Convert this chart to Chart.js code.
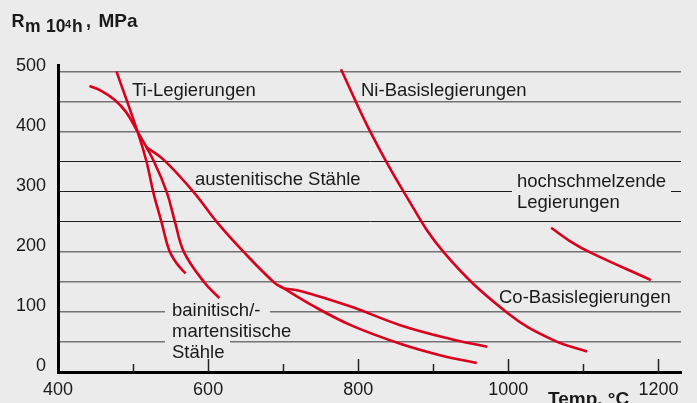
<!DOCTYPE html>
<html>
<head>
<meta charset="utf-8">
<script src="https://cdn.jsdelivr.net/npm/chart.js@4/dist/chart.umd.min.js"></script>
<style>
  html, body { margin: 0; padding: 0; background: #ebebeb; }
  #wrap { width: 697px; height: 403px; position: relative; }
</style>
</head>
<body>
<div id="wrap"><canvas id="c" width="697" height="403"></canvas></div>
<script>
// ---- data (temperature in °C, creep strength Rm 10^4 h in MPa) ----
const tempTi   = [478, 506, 518, 527, 538, 548, 558, 570];
const rmTi     = [500, 400, 350, 299, 249, 203, 181, 164];

const tempBain = [442, 457, 474.5, 490.5, 506, 528, 545, 556, 568, 595, 615];
const rmBain   = [476, 468.5, 454, 433, 400, 350, 299, 249, 199, 149, 123];

const tempAust = [517, 541, 581, 612, 648, 688, 701, 737, 790, 856, 909, 958];
const rmAust   = [375, 353, 299, 249, 199, 149, 139, 112, 78, 47, 28, 15];

const tempCo   = [701, 723, 790, 856, 923, 972];
const rmCo     = [139, 135, 109, 78, 55, 42];

const tempNi   = [777, 816, 861, 914, 998, 1060, 1105];
const rmNi     = [504, 400, 299, 199, 99, 53, 34];

const tempHoch = [1057, 1082, 1109, 1190];
const rmHoch   = [240, 218, 199, 153];

const xTickLabels = ['400', '600', '800', '1000', '1200'];
const yTickLabels = ['0', '100', '200', '300', '400', '500'];

const annotationTexts = ['Ti-Legierungen', 'Ni-Basislegierungen', 'austenitische Stähle',
  'hochschmelzende', 'Legierungen', 'Co-Basislegierungen', 'bainitisch/-', 'martensitische', 'Stähle'];

// ---- layout / style ----
const RED = '#d8001c';
const TEXT = '#1a1a1a';
const BG = '#ebebeb';
const FONT = '"Liberation Sans", Arial, Helvetica, sans-serif';

const annotationPos = [
  {x: 132, y: 96}, {x: 361, y: 96}, {x: 195, y: 185},
  {x: 517, y: 187}, {x: 517, y: 208}, {x: 499, y: 303},
  {x: 172, y: 316}, {x: 172, y: 337}, {x: 172, y: 358}
];
const masks = [
  {x0: 165, x1: 270, y0: 304, y1: 319},
  {x0: 165, x1: 230, y0: 338, y1: 347},
  {x0: 512, x1: 671, y0: 188, y1: 196}
];

function pts(xs, ys) { return xs.map((x, i) => ({x: x, y: ys[i]})); }
function ds(label, xs, ys) {
  return { label: label, data: pts(xs, ys), borderColor: RED, borderWidth: 2.6,
           pointRadius: 0, fill: false, tension: 0.4, borderCapStyle: 'butt' };
}

const annotationPlugin = {
  id: 'annot',
  beforeDatasetsDraw(chart) {
    const ctx = chart.ctx;
    ctx.save();
    ctx.fillStyle = BG;
    masks.forEach(m => ctx.fillRect(m.x0, m.y0, m.x1 - m.x0, m.y1 - m.y0));
    // inner tick marks on x axis
    const xs = chart.scales.x;
    const bottom = chart.chartArea.bottom;
    ctx.strokeStyle = '#222';
    ctx.lineWidth = 1.5;
    for (let v = 500; v <= 1200; v += 100) {
      const px = Math.round(xs.getPixelForValue(v)) + 0.5;
      const len = (v % 200 === 0) ? 13 : 8;
      ctx.beginPath();
      ctx.moveTo(px, bottom);
      ctx.lineTo(px, bottom - len);
      ctx.stroke();
    }
    ctx.fillStyle = TEXT;
    ctx.font = '18.5px ' + FONT;
    ctx.textBaseline = 'alphabetic';
    ctx.textAlign = 'left';
    annotationTexts.forEach((t, i) => ctx.fillText(t, annotationPos[i].x, annotationPos[i].y));
    ctx.restore();
  },
  afterDraw(chart) {
    const ctx = chart.ctx;
    ctx.save();
    ctx.fillStyle = TEXT;
    ctx.textAlign = 'left';
    ctx.textBaseline = 'alphabetic';
    ctx.font = 'bold 18px ' + FONT;
    ctx.fillText('R', 11.5, 27);
    ctx.font = 'bold 17.5px ' + FONT;
    ctx.fillText('m', 25, 32);
    ctx.fillText('10', 46, 32);
    ctx.font = 'bold 11px ' + FONT;
    ctx.fillText('4', 65, 28);
    ctx.font = 'bold 17.5px ' + FONT;
    ctx.fillText('h', 72, 32);
    ctx.font = 'bold 18px ' + FONT;
    ctx.fillText(',', 86, 27);
    ctx.font = 'bold 19px ' + FONT;
    ctx.fillText('MPa', 98.5, 27);
    ctx.font = 'bold 19px ' + FONT;
    ctx.fillText('Temp. °C', 548, 405);
    ctx.restore();
  }
};

new Chart(document.getElementById('c'), {
  type: 'line',
  data: {
    datasets: [
      ds('Ti-Legierungen', tempTi, rmTi),
      ds('bainitisch/-martensitische Stähle', tempBain, rmBain),
      ds('austenitische Stähle', tempAust, rmAust),
      ds('Co-Basislegierungen', tempCo, rmCo),
      ds('Ni-Basislegierungen', tempNi, rmNi),
      ds('hochschmelzende Legierungen', tempHoch, rmHoch)
    ]
  },
  options: {
    responsive: false,
    animation: false,
    devicePixelRatio: 1,
    layout: { padding: { top: 65, right: 16, left: 0, bottom: 0 } },
    plugins: { legend: { display: false }, tooltip: { enabled: false }, title: { display: false } },
    scales: {
      x: {
        type: 'linear',
        min: 400, max: 1230,
        afterFit: s => { s.height = 31; },
        grid: { display: false, drawTicks: false },
        border: { display: true, color: '#000', width: 3 },
        ticks: {
          stepSize: 100, includeBounds: false, autoSkip: false, maxRotation: 0,
          padding: 7, color: TEXT, font: { size: 18, family: FONT },
          callback: v => { const s = String(v); return xTickLabels.includes(s) ? s : ''; }
        }
      },
      y: {
        min: 0, max: 511,
        afterFit: s => { s.width = 58; },
        grid: {
          drawTicks: false,
          color: c => { const v = c.tick ? c.tick.value : 0; return (v >= 250 && v <= 350) ? '#1e1e1e' : '#747474'; },
          lineWidth: c => { const v = c.tick ? c.tick.value : 0; return (v >= 250 && v <= 350) ? 1 : 1.5; }
        },
        border: { display: true, color: '#000', width: 3 },
        ticks: {
          stepSize: 50, includeBounds: false, padding: 12, labelOffset: -6,
          color: TEXT, font: { size: 18, family: FONT },
          callback: v => { const s = String(v); return yTickLabels.includes(s) ? s : ''; }
        }
      }
    }
  },
  plugins: [annotationPlugin]
});
</script>
</body>
</html>
